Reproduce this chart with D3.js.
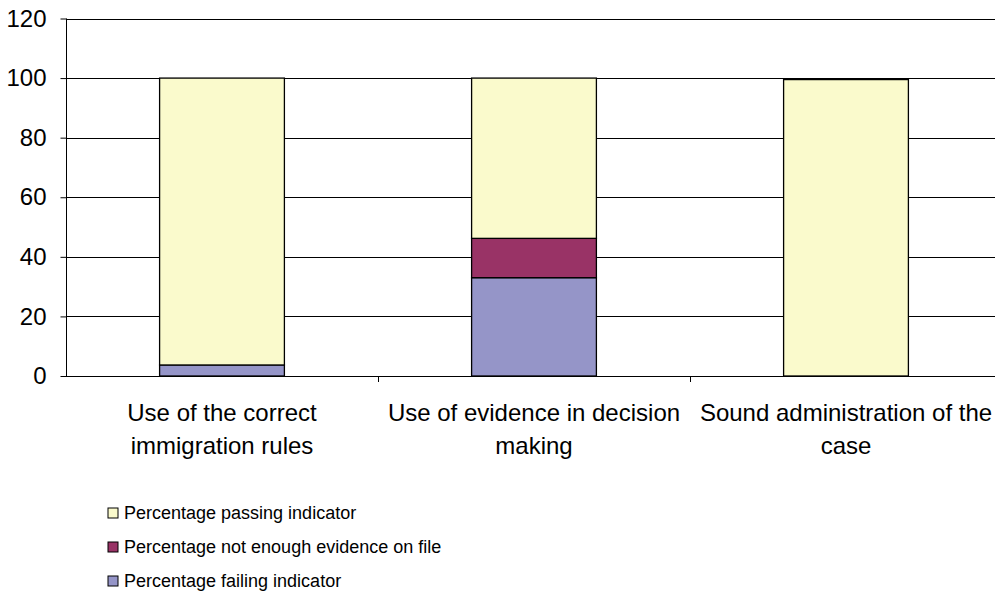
<!DOCTYPE html>
<html>
<head>
<meta charset="utf-8">
<script src="https://cdn.jsdelivr.net/npm/d3@7"></script>
<style>
  html, body { margin: 0; padding: 0; background: #fff; }
  svg { display: block; font-family: "Liberation Sans", Arial, sans-serif; }
</style>
</head>
<body>
<svg id="chart" width="995" height="597"></svg>
<script>
// Categories (label lines) and stacked series values, in percent
const categories = [
  ["Use of the correct", "immigration rules"],
  ["Use of evidence in decision", "making"],
  ["Sound administration of the", "case"]
];
const failing = [3.7, 33, 0];
const notEnough = [0, 13.2, 0];
const passing = [96.3, 53.8, 99.5];
const yTicks = [0, 20, 40, 60, 80, 100, 120];

const seriesNames = [
  "Percentage failing indicator",
  "Percentage not enough evidence on file",
  "Percentage passing indicator"
];
const seriesColors = ["#9595c8", "#993366", "#fafacc"];

const rows = categories.map((c, i) => ({
  key: i, failing: failing[i], notEnough: notEnough[i], passing: passing[i]
}));
const keys = ["failing", "notEnough", "passing"];

const svg = d3.select("#chart");
const plotLeft = 66, plotRight = 1002, plotTop = 18.5, plotBottom = 376;

const x = d3.scaleBand().domain(rows.map(r => r.key)).range([plotLeft, plotRight]).paddingInner(0.6).paddingOuter(0.3);
const xOuter = d3.scaleBand().domain(rows.map(r => r.key)).range([plotLeft, plotRight]);
const y = d3.scaleLinear().domain([0, 120]).range([plotBottom, plotTop]);

// Horizontal gridlines
svg.append("g").selectAll("line").data(yTicks.filter(t => t > 0)).join("line")
  .attr("x1", plotLeft).attr("x2", plotRight)
  .attr("y1", d => Math.round(y(d)) + 0.5).attr("y2", d => Math.round(y(d)) + 0.5)
  .attr("stroke", "#000").attr("stroke-width", 1);

// Stacked bars
const stack = d3.stack().keys(keys)(rows);
svg.append("g").selectAll("g").data(stack).join("g")
  .attr("fill", (d, i) => seriesColors[i])
  .selectAll("rect").data(d => d.filter(p => p[1] - p[0] > 0)).join("rect")
  .attr("x", d => x(d.data.key))
  .attr("width", x.bandwidth())
  .attr("y", d => y(d[1]))
  .attr("height", d => y(d[0]) - y(d[1]))
  .attr("stroke", "#000").attr("stroke-width", 1.3);

// Y axis
const yAxis = d3.axisLeft(y).tickValues(yTicks).tickSize(6).tickPadding(14);
const gy = svg.append("g").attr("transform", `translate(${plotLeft + 0.5},0)`).call(yAxis);
gy.select(".domain").attr("d", `M0,${plotTop}V${plotBottom}`).attr("stroke", "#000");
gy.selectAll(".tick line").attr("stroke", "#000");
gy.selectAll(".tick text").attr("font-size", 24).attr("fill", "#000")
  .attr("font-family", "Liberation Sans, Arial, sans-serif");

// X axis
const xAxis = d3.axisBottom(xOuter).tickSize(0).tickFormat(() => "");
const gx = svg.append("g").attr("transform", `translate(0,${Math.round(plotBottom) + 0.5})`).call(xAxis);
gx.select(".domain").attr("d", `M${plotLeft},0H${plotRight}`).attr("stroke", "#000");
// Category separators
svg.append("g").selectAll("line").data(rows.slice(1)).join("line")
  .attr("x1", d => Math.round(xOuter(d.key)) + 0.5).attr("x2", d => Math.round(xOuter(d.key)) + 0.5)
  .attr("y1", plotBottom).attr("y2", plotBottom + 6)
  .attr("stroke", "#000");

// Category labels
const labels = svg.append("g").selectAll("text").data(rows).join("text")
  .attr("text-anchor", "middle")
  .attr("font-size", 24)
  .attr("fill", "#000")
  .attr("x", d => x(d.key) + x.bandwidth() / 2)
  .attr("y", 421);
labels.selectAll("tspan").data(d => categories[d.key]).join("tspan")
  .attr("x", function () { return d3.select(this.parentNode).attr("x"); })
  .attr("dy", (d, i) => i === 0 ? 0 : 33)
  .text(d => d);

// Legend (passing listed first)
const legendOrder = [2, 1, 0];
const lg = svg.append("g").selectAll("g").data(legendOrder).join("g")
  .attr("transform", (d, i) => `translate(108,${508 + i * 34})`);
lg.append("rect").attr("width", 10).attr("height", 10)
  .attr("fill", d => seriesColors[d]).attr("stroke", "#000").attr("stroke-width", 1);
lg.append("text").attr("x", 16).attr("y", 11)
  .attr("font-size", 18).attr("fill", "#000")
  .text(d => seriesNames[d]);
</script>
</body>
</html>
